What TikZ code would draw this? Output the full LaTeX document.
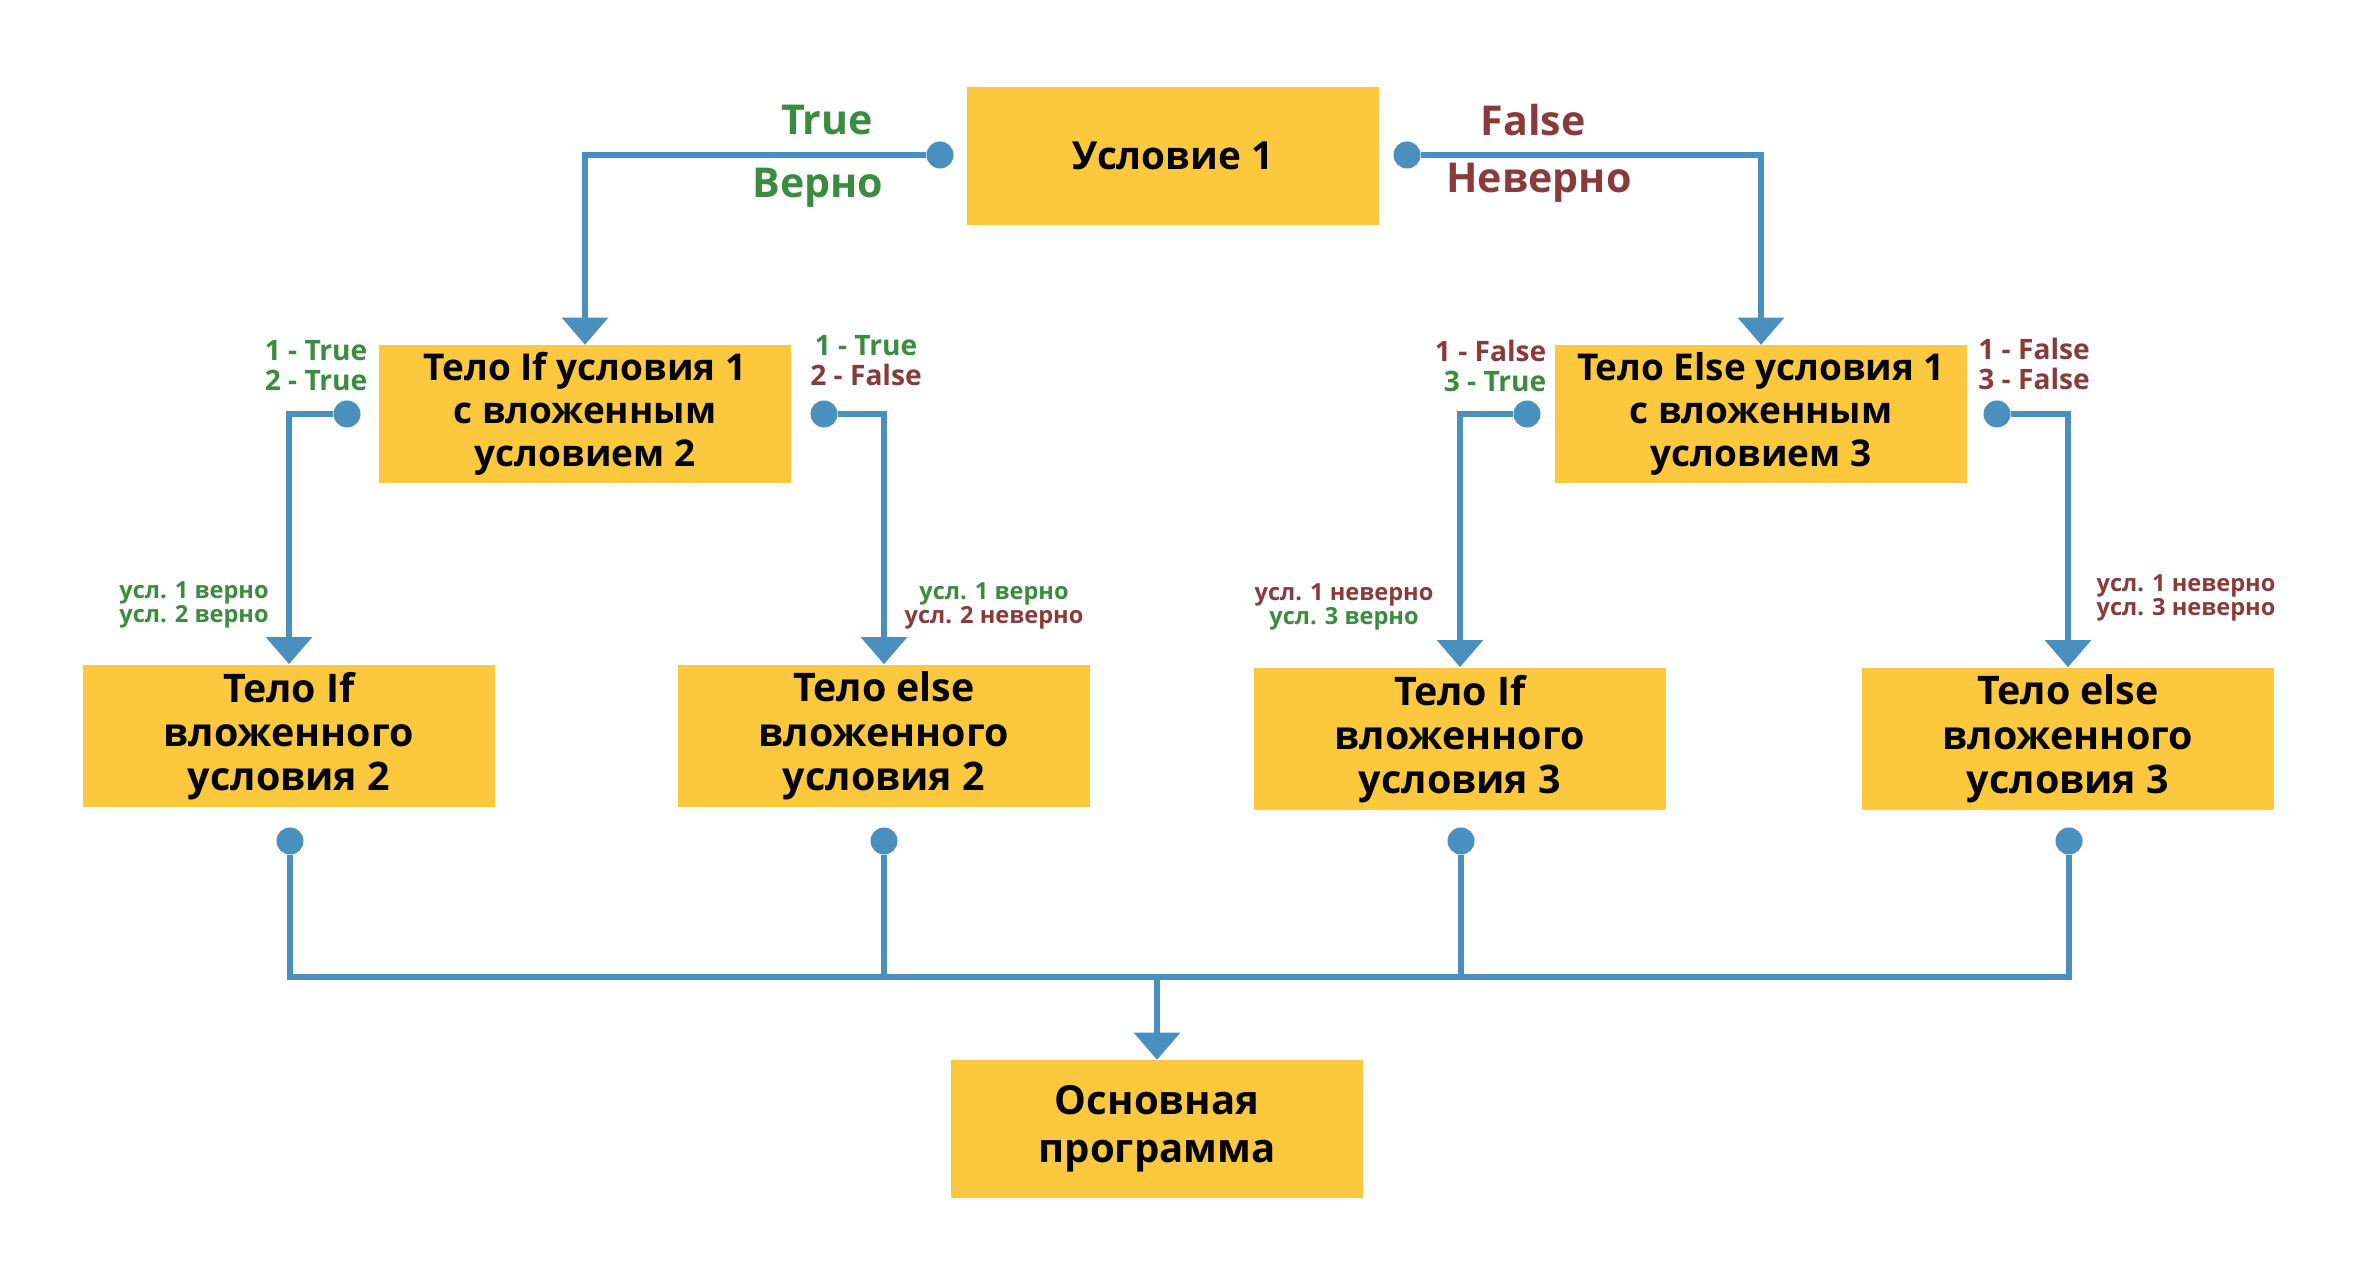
\documentclass[tikz,border=0pt]{standalone}
\usepackage{fontspec}
\setmainfont{Open Sans}
\usetikzlibrary{arrows.meta}
\definecolor{boxyellow}{HTML}{FCC83D}
\definecolor{lineblue}{HTML}{4A90BE}
\definecolor{truegreen}{HTML}{3B8B40}
\definecolor{falsered}{HTML}{8B3A3C}

\begin{document}
\begin{tikzpicture}[
  x=0.01cm, y=-0.01cm,
  box/.style={fill=boxyellow, minimum width=4.11cm, minimum height=1.37cm, align=center, inner sep=2pt, font=\bfseries\fontsize{10.5}{12.2}\selectfont},
  lowbox/.style={box, font=\bfseries\fontsize{11.2}{12.6}\selectfont},
  dot/.style={circle, fill=lineblue, inner sep=0pt, minimum size=0.27cm},
  wire/.style={draw=lineblue, line width=1.7pt},
  arr/.style={wire, -{Triangle[length=0.27cm, width=0.45cm]}},
  big/.style={font=\bfseries\fontsize{11.7}{14}\selectfont},
  tag/.style={align=center, inner sep=0pt, font=\bfseries\fontsize{8}{8.5}\selectfont},
  note/.style={align=center, inner sep=0pt, font=\bfseries\fontsize{6.7}{6.8}\selectfont}
]
\useasboundingbox (0,0) rectangle (2354,1283);
\node[box, font=\bfseries\fontsize{11}{13}\selectfont] (cond) at (1173,156) {Условие 1};
\node[box] (ifbody) at (585,414) {Тело If условия 1\\с вложенным\\условием 2};
\node[box] (elsebody) at (1761,414) {Тело Else условия 1\\с вложенным\\условием 3};
\node[lowbox] (ifin2) at (289,736) {Тело If\\вложенного\\условия 2};
\node[lowbox] (elsein2) at (884,736) {Тело else\\вложенного\\условия 2};
\node[lowbox] (ifin3) at (1460,739) {Тело If\\вложенного\\условия 3};
\node[lowbox] (elsein3) at (2068,739) {Тело else\\вложенного\\условия 3};
\node[box, font=\bfseries\fontsize{11.4}{13.6}\selectfont] (prog) at (1157,1129) {Основная\\программа};

\node[dot] (condL) at (940,155) {};
\node[dot] (condR) at (1407,155) {};
\node[dot] (ifL) at (347,414) {};
\node[dot] (ifR) at (824,414) {};
\node[dot] (elseL) at (1527,414) {};
\node[dot] (elseR) at (1997,414) {};
\node[dot] (ifin2d) at (290,841) {};
\node[dot] (elsein2d) at (884,841) {};
\node[dot] (ifin3d) at (1461,841) {};
\node[dot] (elsein3d) at (2069,841) {};
\coordinate (merge) at (1157,977);

\draw[arr] (condL) -| (ifbody);
\draw[arr] (condR) -| (elsebody);
\draw[arr] (ifL) -| (ifin2);
\draw[arr] (ifR) -| (elsein2);
\draw[arr] (elseL) -| (ifin3);
\draw[arr] (elseR) -| (elsein3);
\draw[wire] (ifin2d) |- (merge);
\draw[wire] (elsein3d) |- (merge);
\draw[wire] (elsein2d) -- (elsein2d |- merge);
\draw[wire] (ifin3d) -- (ifin3d |- merge);
\draw[arr] (merge) -- (prog);

\node[big, text=truegreen] (truetag) at (827,120) {True};
\node[big, text=truegreen] (truetxt) at (818,188) {Верно};
\node[big, text=falsered] (falsetag) at (1533,120) {False};
\node[big, text=falsered] (falsetxt) at (1539,183) {Неверно};

\node[tag, text=truegreen, anchor=east, align=right] (ifLtag) at (368,366) {1 - True\\2 - True};
\node[tag, text=truegreen] (ifRtag) at (866,361) {1 - True\\\textcolor{falsered}{2 - False}};
\node[tag, text=falsered, anchor=east, align=right] (elseLtag) at (1547,366) {1 - False\\\textcolor{truegreen}{3 - True}};
\node[tag, text=falsered] (elseRtag) at (2034,364) {1 - False\\3 - False};

\node[note, text=truegreen] (ifin2note) at (194,605) {усл. 1 верно\\усл. 2 верно};
\node[note, text=truegreen] (elsein2note) at (994,606) {усл. 1 верно\\\textcolor{falsered}{усл. 2 неверно}};
\node[note, text=falsered] (ifin3note) at (1344,607) {усл. 1 неверно\\\textcolor{truegreen}{усл. 3 верно}};
\node[note, text=falsered] (elsein3note) at (2186,598) {усл. 1 неверно\\усл. 3 неверно};
\end{tikzpicture}
\end{document}
